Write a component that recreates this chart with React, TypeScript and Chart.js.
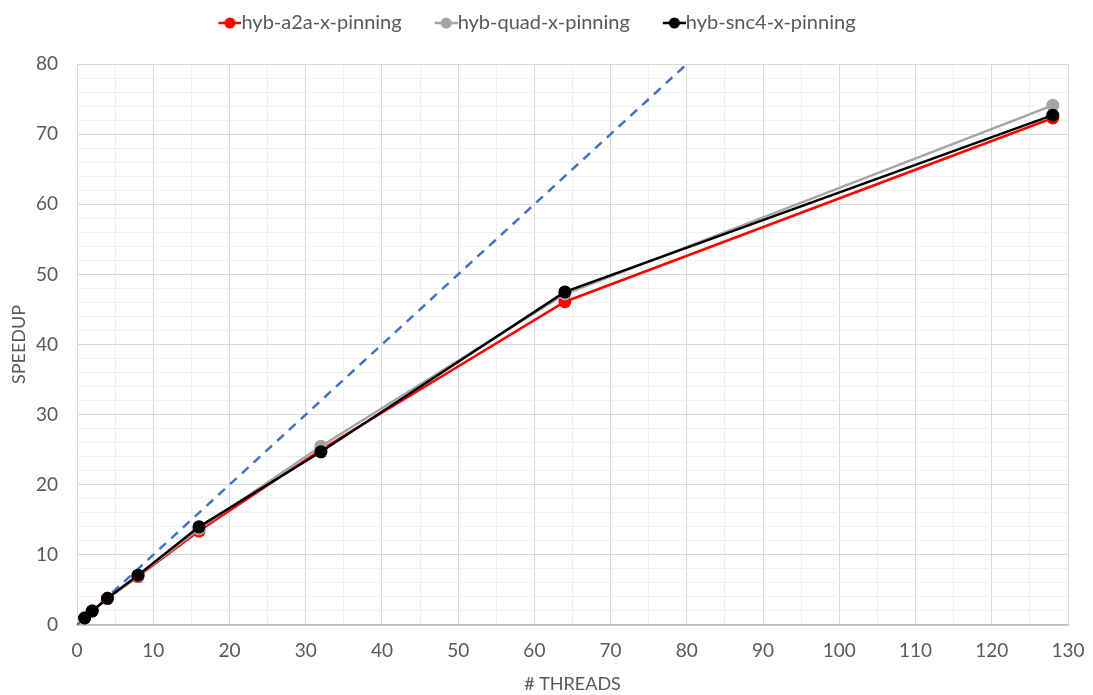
import React, { useEffect, useRef } from "react";
import { Chart, registerables } from "chart.js";

Chart.register(...registerables);

// Thread counts and measured speedups per configuration
const threads = [1, 2, 4, 8, 16, 32, 64, 128];
const a2aSpeedup = [1.0, 2.0, 3.8, 6.9, 13.4, 25.0, 46.1, 72.3];
const quadSpeedup = [1.0, 2.0, 3.8, 7.0, 13.7, 25.5, 47.2, 74.1];
const snc4Speedup = [1.0, 2.0, 3.8, 7.1, 14.0, 24.7, 47.5, 72.7];

// Ideal (linear) speedup reference
const idealThreads = [0, 80];
const idealSpeedup = [0, 80];

const seriesNames = ["hyb-a2a-x-pinning", "hyb-quad-x-pinning", "hyb-snc4-x-pinning"];
const seriesColors = ["#ff0000", "#a5a5a5", "#000000"];

const FONT = "Lato, 'Liberation Sans', sans-serif";
const TEXT = "#595959";
const LEGEND_SIZE = 20;
const LEGEND_PAD = 11;
const BOX_W = 35;

// Legend marker: a short line with a dot, placed at the right end of an
// image so it sits directly before the label text.
function legendMarker(color: string): HTMLCanvasElement {
  const w = BOX_W + LEGEND_SIZE;
  const c = document.createElement("canvas");
  c.width = w;
  c.height = 14;
  const g = c.getContext("2d")!;
  const x0 = w - 23;
  g.strokeStyle = color;
  g.lineWidth = 2.5;
  g.beginPath();
  g.moveTo(x0, 7);
  g.lineTo(w, 7);
  g.stroke();
  g.fillStyle = color;
  g.beginPath();
  g.arc(x0 + 11.5, 7, 5.5, 0, Math.PI * 2);
  g.fill();
  return c;
}

const toPoints = (xs: number[], ys: number[]) => xs.map((x, i) => ({ x, y: ys[i] }));

// Extra room between the legend row and the plot, and a small horizontal nudge
const legendSpacing = {
  id: "legendSpacing",
  beforeInit(chart: any) {
    const fit = chart.legend.fit;
    chart.legend.fit = function () {
      fit.call(this);
      this.height += 21;
    };
  },
  afterLayout(chart: any) {
    chart.legend.left -= 8;
    chart.legend.right -= 8;
  },
};

export default function App() {
  const ref = useRef<HTMLCanvasElement>(null);

  useEffect(() => {
    if (!ref.current) return;
    const markers = seriesColors.map(legendMarker);
    const seriesData = [a2aSpeedup, quadSpeedup, snc4Speedup];
    const drawOrder = [3, 2, 1];

    const datasets: any[] = seriesNames.map((name, i) => ({
      label: name,
      data: toPoints(threads, seriesData[i]),
      borderColor: seriesColors[i],
      backgroundColor: seriesColors[i],
      borderWidth: 2.5,
      pointRadius: 6.5,
      pointHoverRadius: 6.5,
      pointBorderWidth: 0,
      order: drawOrder[i],
    }));
    datasets.push({
      label: "ideal",
      data: toPoints(idealThreads, idealSpeedup),
      borderColor: "#4472c4",
      borderWidth: 2.5,
      borderDash: [9, 7],
      pointRadius: 0,
      order: 4,
    });

    const gridColor = (ctx: any, step: number) =>
      ctx.tick && ctx.tick.value % step === 0 ? "#d9d9d9" : "#f0f0f0";

    const chart = new Chart(ref.current, {
      type: "line",
      data: { datasets },
      plugins: [legendSpacing],
      options: {
        animation: false,
        responsive: true,
        maintainAspectRatio: false,
        layout: { padding: { top: 2, right: 25, left: 0, bottom: 0 } },
        plugins: {
          tooltip: { enabled: false },
          legend: {
            position: "top",
            labels: {
              usePointStyle: true,
              pointStyleWidth: BOX_W,
              padding: LEGEND_PAD,
              color: TEXT,
              font: { family: FONT, size: LEGEND_SIZE },
              sort: (a: any, b: any) => a.datasetIndex - b.datasetIndex,
              generateLabels: (c: any) => {
                const base = Chart.defaults.plugins.legend.labels.generateLabels(c);
                return base
                  .filter((it: any) => it.datasetIndex < 3)
                  .map((it: any) => ({ ...it, pointStyle: markers[it.datasetIndex] }));
              },
            },
          },
        },
        scales: {
          x: {
            type: "linear",
            min: 0,
            max: 130,
            afterFit: (s: any) => {
              s.height = 70;
              s.paddingLeft = 0;
              s.paddingRight = 0;
            },
            ticks: {
              stepSize: 5,
              autoSkip: false,
              maxRotation: 0,
              padding: 14,
              color: TEXT,
              font: { family: FONT, size: 19 },
              callback: (v: any) => (Number(v) % 10 === 0 ? String(v) : ""),
            },
            grid: {
              drawTicks: false,
              lineWidth: 1,
              color: (ctx: any) => gridColor(ctx, 10),
            },
            border: { display: true, color: "#bfbfbf", width: 1.5 },
            title: {
              display: true,
              text: "# THREADS",
              color: TEXT,
              font: { family: FONT, size: 18 },
              padding: { top: 0, bottom: 0 },
            },
          },
          y: {
            type: "linear",
            min: 0,
            max: 80,
            afterFit: (s: any) => {
              s.width = 77;
              s.paddingTop = 0;
              s.paddingBottom = 0;
            },
            ticks: {
              stepSize: 2,
              autoSkip: false,
              padding: 19,
              color: TEXT,
              font: { family: FONT, size: 19 },
              callback: (v: any) => (Number(v) % 10 === 0 ? String(v) : ""),
            },
            grid: {
              drawTicks: false,
              lineWidth: 1,
              color: (ctx: any) => gridColor(ctx, 10),
            },
            border: { display: false },
            title: {
              display: true,
              text: "SPEEDUP",
              color: TEXT,
              font: { family: FONT, size: 18 },
              padding: { top: 8, bottom: 0 },
            },
          },
        },
      },
    });
    return () => chart.destroy();
  }, []);

  return (
    <div style={{ position: "absolute", left: 0, top: 0, width: 1093, height: 695, background: "#fff" }}>
      <canvas ref={ref} />
    </div>
  );
}
